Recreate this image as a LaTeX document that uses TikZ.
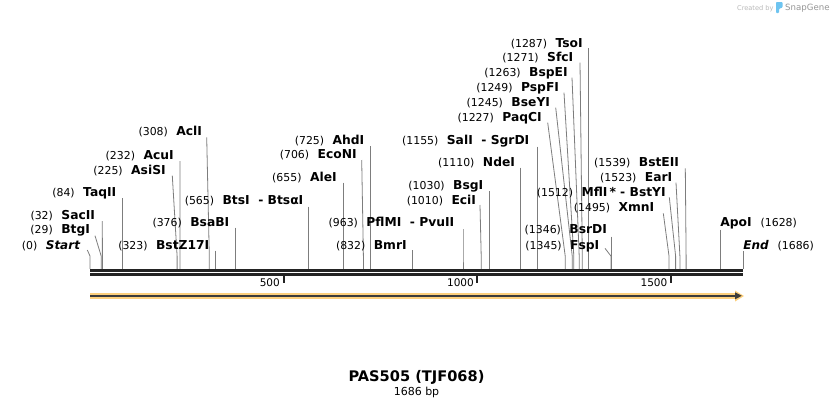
\documentclass[tikz,border=0pt]{standalone}
\usepackage{fontspec}
\setmainfont{DejaVu Sans}
\definecolor{sitegray}{RGB}{125,125,125}
\definecolor{bardark}{RGB}{35,35,35}
\definecolor{bandorange}{RGB}{253,208,125}
\definecolor{arrdark}{RGB}{60,60,60}
\definecolor{wmgray}{RGB}{185,185,185}
\definecolor{wmgraydark}{RGB}{150,150,150}
\definecolor{wmblue}{RGB}{110,196,240}
\newcommand\zzn[1]{{\fontsize{10.9}{12}\selectfont(#1)}\hspace{8.5pt}}
\newcommand\zzb[1]{{\fontsize{12.3}{14}\selectfont\bfseries #1}}
\newcommand\zzs[1]{{\fontsize{12}{14}\selectfont\bfseries\itshape #1}}
\newcommand\zzr[1]{\hspace{9pt}{\fontsize{10.9}{12}\selectfont(#1)}}
% id, label end x, label centre y, line top x, line top y, site x, text
\newcommand\enz[7]{%
  \node[lbl, anchor=base east] (#1) at (#2, #3+4.4) {#7};
  \coordinate (#1t) at (#4,#5);
  \coordinate (#1k) at (#6,256);
  \coordinate (#1e) at (#6,268.8);
  \draw[siteline] (#1t) -- (#1k) -- (#1e);}
\newcommand\enzR[7]{%
  \node[lbl, anchor=base west] (#1) at (#2, #3+4.4) {#7};
  \coordinate (#1t) at (#4,#5);
  \coordinate (#1k) at (#6,256);
  \coordinate (#1e) at (#6,268.8);
  \draw[siteline] (#1t) -- (#1k) -- (#1e);}
\tikzset{
  lbl/.style={inner sep=0pt, outer sep=0pt, text=black},
  siteline/.style={draw=sitegray, line width=0.8pt},
  barline/.style={draw=bardark, line width=2.7pt},
  tickline/.style={draw=bardark, line width=2pt},
  ticklbl/.style={inner sep=0pt, anchor=base east, font=\fontsize{10.5}{12}\selectfont},
}
\begin{document}
\begin{tikzpicture}[x=1pt,y=-1pt]
\useasboundingbox[fill=white] (0,0) rectangle (834,408);

% watermark
\node[inner sep=0pt, anchor=base west, text=wmgray, font=\fontsize{6.6}{8}\selectfont] (wmc) at (737,10) {Created by};
\fill[wmblue, rounded corners=0.8pt] (776,2) -- (782.5,2) -- (782.5,7.5) -- (779,8.8) -- (779,13) -- (776,13) -- cycle;
\node[inner sep=0pt, anchor=base west, text=wmgraydark, font=\fontsize{8.6}{10}\selectfont] (wms) at (785,10.8) {SnapGene};

% bars
\coordinate (b1L) at (90,270.3);
\coordinate (b1R) at (743.3,270.3);
\coordinate (b2L) at (90,274.5);
\coordinate (b2R) at (743.3,274.5);
\draw[barline] (b1L) -- (b1R);
\draw[barline] (b2L) -- (b2R);

% ticks
\coordinate (t5a) at (283.6,275); \coordinate (t5b) at (283.6,283);
\coordinate (t10a) at (477.2,275); \coordinate (t10b) at (477.2,283);
\coordinate (t15a) at (670.8,275); \coordinate (t15b) at (670.8,283);
\draw[tickline] (t5a) -- (t5b);
\draw[tickline] (t10a) -- (t10b);
\draw[tickline] (t15a) -- (t15b);
\node[ticklbl] (l500) at (280,286) {500};
\node[ticklbl] (l1000) at (474,286) {1000};
\node[ticklbl] (l1500) at (667.5,286) {1500};

% feature arrow
\fill[bandorange] (90,293.2) -- (735,293.2) -- (735,290.5) -- (744,296) -- (735,301.5) -- (735,298.8) -- (90,298.8) -- cycle;
\coordinate (aL) at (90,295.8);
\coordinate (aR) at (736,295.8);
\draw[draw=arrdark, line width=2pt] (aL) -- (aR);
\fill[arrdark] (735,292.3) -- (741.8,295.8) -- (735,299.3) -- cycle;

% sites
\enz{start}{80}{245}{87.3}{250}{90}{\zzn{0}\zzs{Start}}
\enz{btgi}{90}{229.3}{95}{235.7}{101.2}{\zzn{29}\zzb{BtgI}}
\enz{sacii}{95}{215}{102.3}{221}{102.4}{\zzn{32}\zzb{SacII}}
\enz{taqii}{116.3}{191.7}{122.5}{198.3}{122.5}{\zzn{84}\zzb{TaqII}}
\enz{asisi}{165.7}{170}{172.3}{175.7}{177.1}{\zzn{225}\zzb{AsiSI}}
\enz{acui}{173.7}{154.7}{180}{161}{179.9}{\zzn{232}\zzb{AcuI}}
\enz{acli}{202}{131.2}{206.7}{137.3}{209.3}{\zzn{308}\zzb{AclI}}
\enz{bstz}{209.3}{245}{215.1}{250.7}{215.1}{\zzn{323}\zzb{BstZ17I}}
\enz{bsabi}{229.3}{221.7}{235.6}{227.7}{235.6}{\zzn{376}\zzb{BsaBI}}
\enz{btsi}{303.3}{200}{308.8}{206.7}{308.8}{\zzn{565}\zzb{BtsI\ \ - BtsαI}}
\enz{alei}{336.7}{177.3}{343.7}{182.7}{343.7}{\zzn{655}\zzb{AleI}}
\enz{econi}{356.7}{154.3}{361.7}{160}{363.4}{\zzn{706}\zzb{EcoNI}}
\enz{ahdi}{364.3}{140}{370.8}{146}{370.8}{\zzn{725}\zzb{AhdI}}
\enz{bmri}{406.7}{245}{412.2}{250}{412.2}{\zzn{832}\zzb{BmrI}}
\enz{pflmi}{454.3}{221.7}{463}{229}{463}{\zzn{963}\zzb{PflMI\ \ - PvuII}}
\enz{ecii}{476}{200}{480}{205}{481.2}{\zzn{1010}\zzb{EciI}}
\enz{bsgi}{483.3}{185}{488.9}{191}{488.9}{\zzn{1030}\zzb{BsgI}}
\enz{ndei}{515}{161.7}{519.9}{167.7}{519.9}{\zzn{1110}\zzb{NdeI}}
\enz{sali}{529.3}{140}{537.4}{146.7}{537.4}{\zzn{1155}\zzb{SalI\ \ - SgrDI}}
\enz{paqci}{541.7}{117.3}{547.7}{122.7}{565.2}{\zzn{1227}\zzb{PaqCI}}
\enz{bseyi}{550}{101.7}{555.7}{107.7}{572.2}{\zzn{1245}\zzb{BseYI}}
\enz{pspfi}{559}{86.7}{564}{92.7}{573.8}{\zzn{1249}\zzb{PspFI}}
\enz{bspei}{567.7}{72.3}{572}{77.7}{579.2}{\zzn{1263}\zzb{BspEI}}
\enz{sfci}{573.3}{57.3}{580}{62.7}{582.3}{\zzn{1271}\zzb{SfcI}}
\enz{tsoi}{582.7}{42.7}{588.5}{48.3}{588.5}{\zzn{1287}\zzb{TsoI}}
\enz{fspi}{599.3}{245}{605}{248.3}{610.9}{\zzn{1345}\zzb{FspI}}
\enz{bsrdi}{607}{229.3}{611.3}{236.7}{611.3}{\zzn{1346}\zzb{BsrDI}}
\enz{xmni}{654.3}{207.3}{663.3}{213.3}{669}{\zzn{1495}\zzb{XmnI}}
\enz{mfli}{665.7}{191.7}{669.3}{197.3}{675.6}{\zzn{1512}\zzb{MflI\,*\ - BstYI}}
\enz{eari}{672.3}{176.7}{676}{182.7}{679.9}{\zzn{1523}\zzb{EarI}}
\enz{bsteii}{679}{161.7}{685.3}{168.3}{686.1}{\zzn{1539}\zzb{BstEII}}
\enzR{apoi}{720.3}{222.3}{720.5}{229.5}{720.5}{\zzb{ApoI}\zzr{1628}}
\enzR{endm}{743.3}{245}{743.1}{251}{743.1}{\zzs{End}\zzr{1686}}

% title
\node[inner sep=0pt, font=\fontsize{14.6}{16}\selectfont\bfseries] (title) at (416.5,377.5) {PAS505 (TJF068)};
\node[inner sep=0pt, font=\fontsize{11}{12}\selectfont] (bp) at (416.5,392.5) {1686 bp};
\end{tikzpicture}
\end{document}
